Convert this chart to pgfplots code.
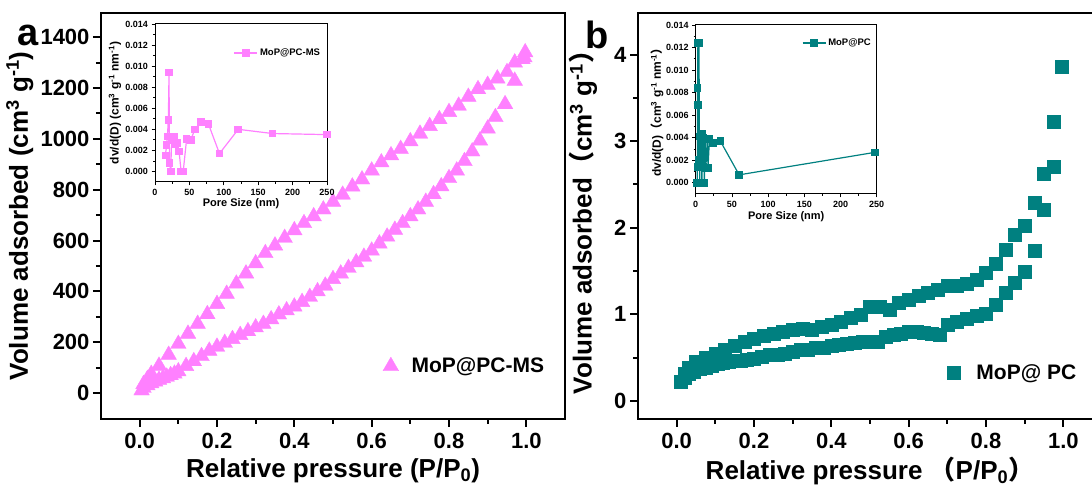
\documentclass[border=0pt]{standalone}
\usepackage{pgfplots}
\pgfplotsset{compat=1.18}
\usepackage{fontspec}
\setmainfont{Liberation Sans}
\newfontfamily\cjk{Noto Sans CJK SC}
\definecolor{pinkms}{RGB}{255,128,255}
\definecolor{tealpc}{RGB}{0,128,128}
\pgfplotsset{
  mainax/.style={
    scale only axis, anchor=south west,
    axis line style={line width=2.4pt},
    every tick/.style={line width=2pt, black},
    major tick length=8pt, minor tick length=5pt,
    tick align=outside, xtick pos=left, ytick pos=left,
    tick label style={font=\fontsize{22}{26}\selectfont\bfseries},
    xticklabel style={yshift=-5pt, inner sep=1pt},
    label style={font=\fontsize{26}{30}\selectfont\bfseries, inner sep=0pt},
    /pgf/number format/assume math mode=true,
    /pgf/number format/1000 sep={},
    legend style={draw=none, fill=none, font=\fontsize{21}{25}\selectfont\bfseries},
  },
  insetax/.style={
    scale only axis, anchor=south west,
    axis line style={line width=1pt},
    every tick/.style={line width=0.8pt, black},
    major tick length=3.5pt, minor tick length=2pt,
    tick align=outside, xtick pos=left, ytick pos=left,
    tick label style={font=\fontsize{9}{10}\selectfont\bfseries},
    xlabel style={font=\fontsize{11}{12}\selectfont\bfseries},
    ylabel style={font=\fontsize{12}{13}\selectfont\bfseries},
    /pgf/number format/assume math mode=true,
    scaled y ticks=false,
    yticklabel style={/pgf/number format/fixed, /pgf/number format/fixed zerofill, /pgf/number format/precision=3},
    xmin=0, xmax=250, ymin=-0.001, ymax=0.014,
    xtick={0,50,100,150,200,250}, minor x tick num=1,
    ytick={0,0.002,0.004,0.006,0.008,0.010,0.012,0.014}, minor y tick num=1,
    legend style={draw=none, fill=none, font=\fontsize{9.5}{10}\selectfont\bfseries},
    legend image code/.code={\draw[mark repeat=2,mark phase=2,##1] plot coordinates {(0pt,0pt) (11.5pt,0pt) (23pt,0pt)};},
  },
}
\begin{document}
\begin{tikzpicture}
\useasboundingbox (0,0) rectangle (1092pt,486pt);
% ---------------- panel a ----------------
\begin{axis}[mainax, at={(101pt,67pt)}, width=464pt, height=406pt,
  xmin=-0.1, xmax=1.1, ymin=-102, ymax=1495,
  xtick={0,0.2,0.4,0.6,0.8,1}, minor x tick num=1,
  ytick={0,200,400,600,800,1000,1200,1400}, minor y tick num=1,
  xticklabel style={/pgf/number format/fixed, /pgf/number format/fixed zerofill, /pgf/number format/precision=1},
  xlabel={Relative pressure (P/P\textsubscript{0})},
  ylabel={Volume adsorbed (cm\textsuperscript{3} g\textsuperscript{-1})},
  xlabel style={at={(axis description cs:0.5,-0.127)}, anchor=center},
  ylabel style={at={(axis description cs:-0.175,0.5)}, anchor=center},
  legend style={at={(axis description cs:0.601,0.13)}, anchor=west},
]
\addplot[only marks, mark=triangle*, mark size=9pt, color=pinkms] coordinates {
(0.005,10) (0.01,20) (0.02,30) (0.03,38) (0.04,45) (0.05,52) (0.06,58) (0.07,64) (0.08,70) (0.09,76)
(0.10,85) (0.12,106) (0.14,125) (0.16,145) (0.18,166) (0.20,182) (0.22,197) (0.24,212) (0.26,228) (0.28,243)
(0.30,258) (0.32,272) (0.34,290) (0.36,309) (0.38,325) (0.40,340) (0.42,358) (0.44,378) (0.46,400) (0.48,422)
(0.50,448) (0.52,470) (0.54,492) (0.56,514) (0.58,536) (0.60,560) (0.62,588) (0.64,615) (0.66,642) (0.68,668)
(0.70,695) (0.72,722) (0.74,752) (0.76,782) (0.78,813) (0.80,845) (0.82,875) (0.84,912) (0.86,950) (0.88,993)
(0.90,1040) (0.92,1085) (0.945,1136) (0.97,1228) (0.995,1320)
};
\addlegendentry{\hspace{11pt}MoP@PC-MS}
\addplot[only marks, mark=triangle*, mark size=9pt, color=pinkms, forget plot] coordinates {
(0.997,1340) (0.99,1313) (0.97,1300) (0.95,1262) (0.925,1237) (0.90,1212) (0.875,1195) (0.85,1165) (0.825,1130)
(0.80,1105) (0.775,1077) (0.75,1050) (0.725,1020) (0.70,990) (0.675,960) (0.65,935) (0.625,907) (0.60,875)
(0.575,840) (0.55,812) (0.525,780) (0.50,752) (0.475,722) (0.45,695) (0.425,668) (0.40,640) (0.375,610)
(0.35,580) (0.325,550) (0.30,510) (0.275,470) (0.25,430) (0.225,390) (0.20,350) (0.175,310) (0.15,272)
(0.125,233) (0.10,193) (0.075,150) (0.05,107) (0.03,75) (0.02,55) (0.01,35)
};
\end{axis}
% inset a
\begin{axis}[insetax, at={(155pt,304pt)}, width=172pt, height=158pt,
  xlabel={Pore Size (nm)},
  ylabel={dv/d(D) (cm\textsuperscript{3} g\textsuperscript{-1} nm\textsuperscript{-1})},
  xlabel style={at={(axis description cs:0.5,-0.139)}, anchor=center},
  ylabel style={at={(axis description cs:-0.233,0.5)}, anchor=center},
  legend style={at={(axis description cs:0.44,0.816)}, anchor=west},
]
\addplot[color=pinkms, line width=1.2pt, mark=square*, mark size=3.2pt] coordinates {
(15,0.00152) (17,0.0025) (18,0.0033) (19.4,0.0049) (20.4,0.0094) (21,0.0008) (23,0.0) (24,0.0030)
(27.7,0.0033) (29,0.0026) (32.5,0.0027) (35,0.0019) (38,0.0) (41,0.0) (46,0.0031) (52,0.0030)
(58,0.0040) (66.5,0.0047) (77.7,0.0045) (93.7,0.0017) (121,0.0040) (171,0.0036) (250,0.0035)
};
\addlegendentry{MoP@PC-MS}
\end{axis}
% ---------------- panel b ----------------
\begin{axis}[mainax, at={(638pt,67pt)}, width=464pt, height=406pt,
  xmin=-0.1, xmax=1.1, ymin=-0.208, ymax=4.48,
  xtick={0,0.2,0.4,0.6,0.8,1}, minor x tick num=1,
  ytick={0,1,2,3,4}, minor y tick num=1,
  xticklabel style={/pgf/number format/fixed, /pgf/number format/fixed zerofill, /pgf/number format/precision=1},
  xlabel={Relative pressure {\cjk （}P/P\textsubscript{0}{\cjk ）}},
  ylabel={Volume adsorbed{\cjk （}cm\textsuperscript{3} g\textsuperscript{-1}{\cjk ）}},
  xlabel style={at={(axis description cs:0.5,-0.127)}, anchor=center},
  ylabel style={at={(axis description cs:-0.118,0.5)}, anchor=center},
  legend style={at={(axis description cs:0.66,0.115)}, anchor=west},
]
\addplot[only marks, mark=square*, mark size=6.5pt, color=tealpc] coordinates {
(0.01,0.22) (0.02,0.27) (0.03,0.31) (0.045,0.34) (0.06,0.37) (0.075,0.39) (0.09,0.41) (0.105,0.43)
(0.12,0.44) (0.135,0.45) (0.15,0.46) (0.165,0.47) (0.18,0.48) (0.20,0.49) (0.22,0.51) (0.24,0.53)
(0.26,0.54) (0.28,0.55) (0.30,0.57) (0.32,0.59) (0.34,0.59) (0.36,0.61) (0.38,0.62) (0.40,0.64)
(0.42,0.65) (0.44,0.66) (0.46,0.67) (0.48,0.68) (0.50,0.69) (0.52,0.69) (0.54,0.74) (0.56,0.76)
(0.58,0.78) (0.60,0.80) (0.62,0.80) (0.64,0.79) (0.66,0.78) (0.68,0.77) (0.70,0.88) (0.725,0.92)
(0.75,0.95) (0.775,0.98) (0.80,1.01) (0.825,1.11) (0.85,1.25) (0.875,1.36) (0.90,1.49) (0.925,1.73)
(0.95,2.21) (0.975,2.71) (0.995,3.86)
};
\addlegendentry{\hspace{14pt}MoP@ PC}
\addplot[only marks, mark=square*, mark size=6.5pt, color=tealpc, forget plot] coordinates {
(0.975,3.23) (0.95,2.63) (0.925,2.29) (0.90,2.02) (0.875,1.92) (0.85,1.75) (0.825,1.59) (0.80,1.48)
(0.775,1.40) (0.75,1.35) (0.725,1.33) (0.70,1.33) (0.675,1.29) (0.65,1.25) (0.625,1.21) (0.60,1.17)
(0.575,1.13) (0.55,1.05) (0.525,1.09) (0.50,1.09) (0.475,1.00) (0.45,0.96) (0.425,0.92) (0.40,0.88)
(0.375,0.86) (0.35,0.82) (0.325,0.84) (0.30,0.82) (0.275,0.80) (0.25,0.78) (0.225,0.75) (0.20,0.72)
(0.175,0.68) (0.15,0.64) (0.125,0.59) (0.10,0.55) (0.075,0.50) (0.05,0.45) (0.03,0.38) (0.02,0.32)
};
\end{axis}
% inset b
\begin{axis}[insetax, at={(695.7pt,292pt)}, width=181pt, height=169pt,
  xlabel={Pore Size (nm)},
  ylabel={dv/d(D){\cjk （}cm\textsuperscript{3} g\textsuperscript{-1} nm\textsuperscript{-1}{\cjk ）}},
  xlabel style={at={(axis description cs:0.5,-0.136)}, anchor=center},
  ylabel style={at={(axis description cs:-0.214,0.5)}, anchor=center},
  legend style={at={(axis description cs:0.57,0.893)}, anchor=west},
]
\addplot[color=tealpc, line width=1.2pt, mark=square*, mark size=3.2pt] coordinates {
(2.0,0.0) (2.3,0.0014) (2.6,0.0084) (3.0,0.0124) (3.5,0.0069) (4.0,0.0020) (4.6,0.0124) (5.0,0.0041)
(5.5,0.0) (6.5,0.0041) (7.0,0.0015) (8.0,0.0043) (8.5,0.0) (9.5,0.0043) (10,0.0014) (11,0.0040)
(12,0.0) (13,0.0039) (14,0.0013) (16,0.0039) (17,0.0013) (19,0.0039) (24,0.0035) (34,0.0037)
(60,0.0007) (248,0.0027)
};
\addlegendentry{MoP@PC}
\end{axis}
\node[font=\fontsize{38}{40}\selectfont\bfseries] at (28pt,451pt) {a};
\node[font=\fontsize{38}{40}\selectfont\bfseries] at (597pt,451pt) {b};
\end{tikzpicture}
\end{document}
